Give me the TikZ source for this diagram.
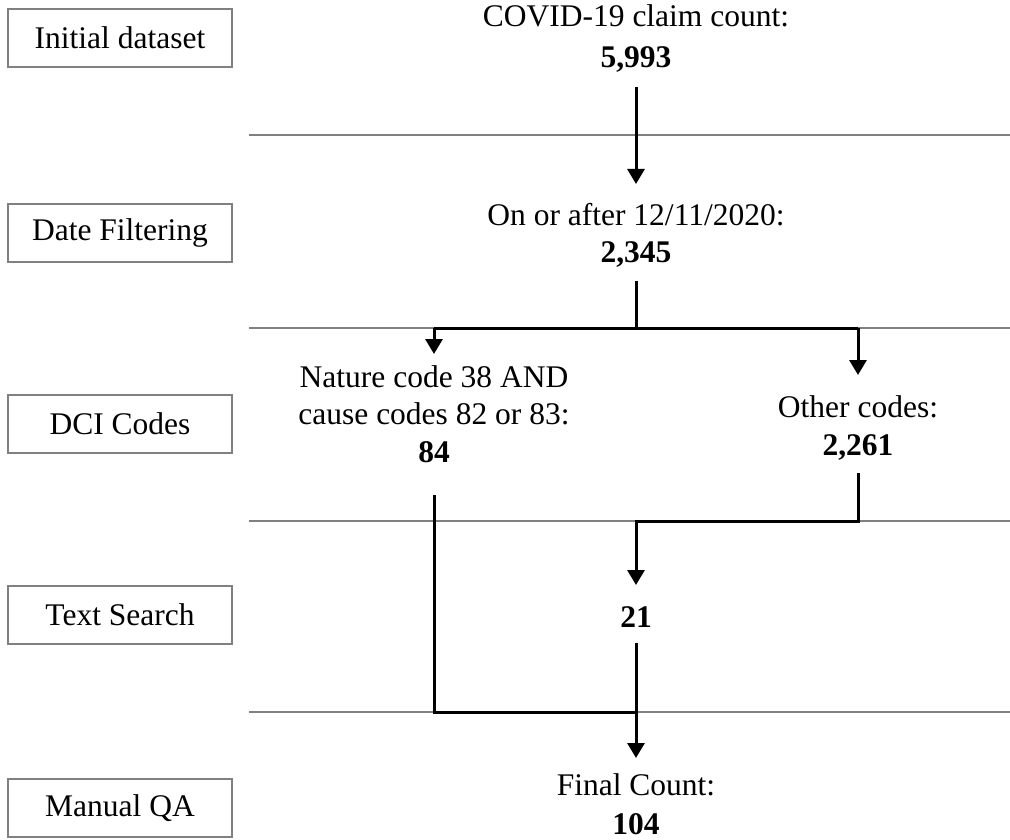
\documentclass[tikz,border=0pt]{standalone}
\usepackage{fontspec}
\setmainfont{Liberation Serif}
\usetikzlibrary{arrows.meta}
\tikzset{
  stage/.style={draw=black!50, line width=1.5pt, minimum width=224pt, minimum height=58pt, inner sep=0pt, font=\fontsize{31.5}{38}\selectfont},
  lbl/.style={align=center, inner sep=0pt, anchor=base, font=\fontsize{31.5}{38}\selectfont},
  sep/.style={draw=black!50, line width=1.5pt},
  flow/.style={line width=3pt, -{Triangle[width=17pt,length=15pt]}},
  flowline/.style={line width=3pt}
}
\begin{document}
\begin{tikzpicture}[x=1pt,y=-1pt]
\useasboundingbox (0,0) rectangle (1010,840);
% stage boxes
\node[stage] (s1) at (120,38) {Initial dataset};
\node[stage] (s2) at (120,233) {Date Filtering};
\node[stage] (s3) at (120,424) {DCI Codes};
\node[stage] (s4) at (120,615) {Text Search};
\node[stage] (s5) at (120,808) {Manual QA};
% separators
\coordinate (g1a) at (249,135); \coordinate (g1b) at (1010,135);
\coordinate (g2a) at (249,328); \coordinate (g2b) at (1010,328);
\coordinate (g3a) at (249,521); \coordinate (g3b) at (1010,521);
\coordinate (g4a) at (249,712); \coordinate (g4b) at (1010,712);
\draw[sep] (g1a) -- (g1b);
\draw[sep] (g2a) -- (g2b);
\draw[sep] (g3a) -- (g3b);
\draw[sep] (g4a) -- (g4b);
% labels (base anchor = baseline of last line)
\node[lbl, font=\fontsize{31.5}{41}\selectfont] (n1) at (636,68) {COVID-19 claim count:\\\textbf{5,993}};
\node[lbl, font=\fontsize{31.5}{37}\selectfont] (n2) at (636,262) {On or after 12/11/2020:\\\textbf{2,345}};
\node[lbl, font=\fontsize{31.5}{37.5}\selectfont] (n3) at (434,462) {Nature code 38 AND\\cause codes 82 or 83:\\\textbf{84}};
\node[lbl] (n4) at (858,455) {Other codes:\\\textbf{2,261}};
\node[lbl] (n5) at (636,627) {\textbf{21}};
\node[lbl, font=\fontsize{31.5}{39}\selectfont] (n6) at (636,834) {Final Count:\\\textbf{104}};
% connectors
\coordinate (c1) at (636,87);
\coordinate (t1) at (636,184);
\coordinate (c2) at (636,281);
\coordinate (c2m) at (636,328);
\coordinate (c3l) at (434,328);
\coordinate (c3r) at (858,328);
\coordinate (t3l) at (434,354);
\coordinate (t3r) at (858,375);
\coordinate (c4) at (434,495);
\coordinate (c5) at (858,473);
\coordinate (c5m) at (858,521);
\coordinate (c6) at (636,521);
\coordinate (t5) at (636,585);
\coordinate (c7) at (636,643);
\coordinate (c8) at (636,712);
\coordinate (c9) at (434,712);
\coordinate (t6) at (636,758);
\draw[flow] (c1) -- (t1);
\draw[flowline] (c2) -- (c2m);
\draw[flowline] (c3l) -- (c3r);
\draw[flow] (c3l) -- (t3l);
\draw[flow] (c3r) -- (t3r);
\draw[flowline] (c4) -- (c9) -- (c8);
\draw[flow] (c5) -- (c5m) -- (c6) -- (t5);
\draw[flow] (c7) -- (c8) -- (t6);
\end{tikzpicture}
\end{document}
